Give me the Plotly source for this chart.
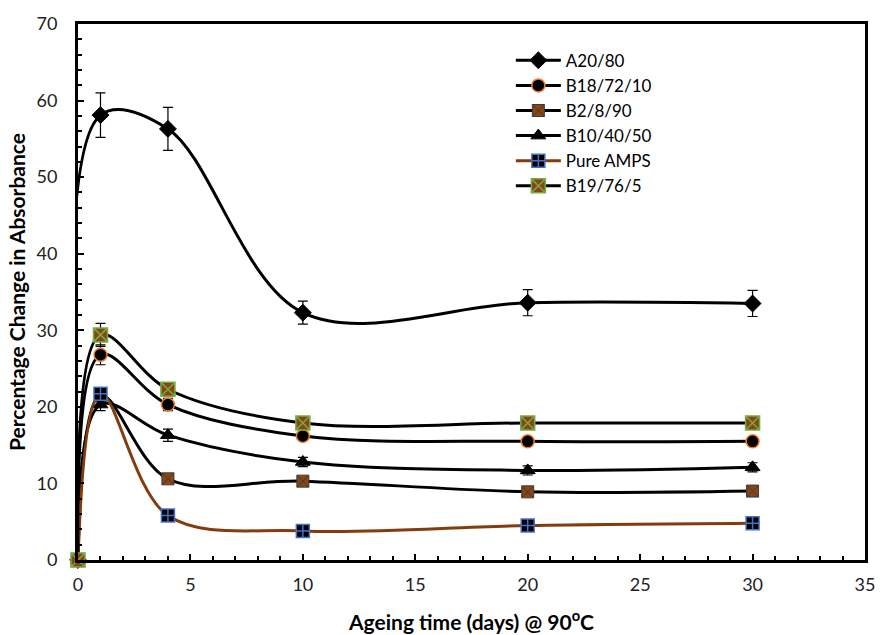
import plotly.graph_objects as go

days = [0, 1, 4, 10, 20, 30]

a20_80 = [0, 58.1, 56.3, 32.3, 33.6, 33.5]
a20_80_err = [0, 2.9, 2.8, 1.5, 1.7, 1.7]
b18_72_10 = [0, 26.8, 20.3, 16.2, 15.5, 15.5]
b18_72_10_err = [0, 1.3, 0.8, 0.4, 0.3, 0.3]
b2_8_90 = [0, 21.5, 10.6, 10.3, 8.9, 9.0]
b2_8_90_err = [0, 0.8, 0.4, 0.4, 0.3, 0.3]
b10_40_50 = [0, 20.3, 16.3, 12.8, 11.7, 12.1]
b10_40_50_err = [0, 0.8, 0.8, 0.6, 0.6, 0.6]
pure_amps = [0, 21.7, 5.8, 3.8, 4.5, 4.8]
pure_amps_err = [0, 0.8, 0.3, 0.3, 0.3, 0.3]
b19_76_5 = [0, 29.4, 22.3, 17.9, 17.9, 17.9]
b19_76_5_err = [0, 1.5, 0.8, 0.4, 0.3, 0.3]

FONT = "Lato"
BROWN = "#843C0C"

series = [
    ("A20/80", a20_80, a20_80_err, "black", dict(symbol="diamond", size=13, color="black", line=dict(color="black", width=1))),
    ("B18/72/10", b18_72_10, b18_72_10_err, "black", dict(symbol="circle", size=13, color="black", line=dict(color="#ED7D31", width=1.5))),
    ("B2/8/90", b2_8_90, b2_8_90_err, "black", dict(symbol="square-x", size=12, color="#8B4513", line=dict(color="#3a3a3a", width=1))),
    ("B10/40/50", b10_40_50, b10_40_50_err, "black", dict(symbol="triangle-up", size=13, color="black", line=dict(color="black", width=1))),
    ("Pure AMPS", pure_amps, pure_amps_err, BROWN, dict(symbol="square-cross", size=13, color="black", line=dict(color="#4472C4", width=1.5))),
    ("B19/76/5", b19_76_5, b19_76_5_err, "black", dict(symbol="square-x", size=14, color="#8B4513", line=dict(color="#70AD47", width=1.5))),
]

fig = go.Figure()
for name, ys, err, lc, mk in series:
    fig.add_trace(go.Scatter(
        x=days, y=ys, name=name, mode="lines+markers",
        line=dict(color=lc, width=3, shape="spline", smoothing=1.0),
        marker=mk, cliponaxis=False,
        error_y=dict(type="data", array=err, visible=True, color="black", thickness=1.2, width=5),
    ))

axis_common = dict(
    showline=True, linecolor="black", linewidth=3, mirror=True,
    ticks="inside", ticklen=6, tickwidth=2, tickcolor="black",
    showgrid=False, zeroline=False,
    tickfont=dict(family=FONT, size=18, color="#222"),
)

fig.update_xaxes(
    range=[0, 35], dtick=5, tick0=0,
    minor=dict(dtick=1, ticks="inside", ticklen=4, tickwidth=2, tickcolor="black"),
    ticklabelstandoff=6, automargin=False,
    title=dict(text="<b>Ageing time (days) @ 90<sup>o</sup>C</b>", font=dict(family=FONT, size=21, color="black"), standoff=22),
    **axis_common,
)
fig.update_yaxes(
    range=[0, 70], dtick=10, tick0=0,
    minor=dict(dtick=2, ticks="inside", ticklen=4, tickwidth=2, tickcolor="black"),
    ticklabelstandoff=14,
    title=dict(text="<b>Percentage Change in Absorbance</b>", font=dict(family=FONT, size=21, color="black"), standoff=6),
    **axis_common,
)

fig.update_layout(
    width=880, height=635,
    margin=dict(l=78, r=14, t=22, b=75),
    plot_bgcolor="white", paper_bgcolor="white",
    font=dict(family=FONT, color="black"),
    legend=dict(
        x=0.55, y=0.965, xanchor="left", yanchor="top",
        bgcolor="rgba(0,0,0,0)", font=dict(family=FONT, size=17, color="black"),
        itemwidth=45, tracegroupgap=0,
    ),
    showlegend=True,
)

fig.write_html("out.html")
